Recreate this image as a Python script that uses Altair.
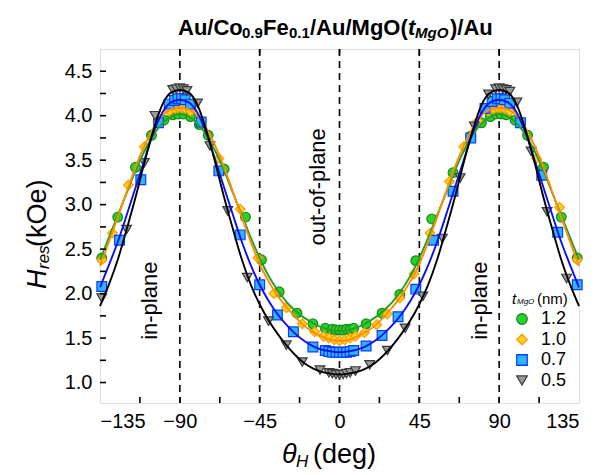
import altair as alt
import pandas as pd

# ---------------- data ----------------
series_names = ["1.2", "1.0", "0.7", "0.5"]
shapes = ["circle", "diamond", "square", "triangle-down"]
fills = ["#2bd12b", "#ffd324", "#2fb4ff", "#9a9a9a"]
strokes = ["#178a17", "#ff9a00", "#0a3cff", "#3a3a3a"]
line_colors = ["#23a023", "#ff8c00", "#0a10f0", "#000000"]

# measured points
theta_12 = [-134, -125, -115, -106, -99, -94, -91, -88, -84, -79, -74, -65, -53, -44, -34, -24, -15, -8, -4, -2, 0, 2, 4, 6, 8, 15, 24, 34, 43, 52, 64, 74, 80, 85, 88, 91, 94, 99, 106, 115, 125, 134]
h_12 = [2.40, 2.86, 3.42, 3.78, 3.95, 4.01, 4.02, 4.02, 3.99, 3.90, 3.78, 3.40, 2.86, 2.38, 2.02, 1.78, 1.66, 1.61, 1.60, 1.59, 1.59, 1.59, 1.60, 1.60, 1.61, 1.66, 1.78, 1.99, 2.37, 2.84, 3.36, 3.77, 3.92, 3.99, 4.02, 4.02, 4.01, 3.95, 3.78, 3.42, 2.86, 2.40]

theta_10 = [-134, -128, -119, -110, -102, -96, -93, -91, -89, -87, -84, -78, -68, -56, -46, -37, -30, -21, -14, -9, -6, -3, 0, 3, 6, 9, 14, 21, 27, 34, 42, 51, 62, 70, 78, 84, 87, 89, 91, 93, 96, 102, 111, 124, 134]
h_10 = [2.38, 2.68, 3.22, 3.65, 3.93, 4.05, 4.08, 4.09, 4.09, 4.08, 4.05, 3.93, 3.52, 2.95, 2.40, 2.00, 1.84, 1.66, 1.57, 1.52, 1.50, 1.48, 1.47, 1.48, 1.50, 1.52, 1.56, 1.65, 1.77, 1.95, 2.22, 2.68, 3.26, 3.65, 3.94, 4.05, 4.08, 4.09, 4.09, 4.08, 4.05, 3.92, 3.52, 2.97, 2.38]

theta_07 = [-134, -124, -112, -102, -96, -93, -91, -89, -87, -84, -78, -68, -56, -45, -35, -26, -15, -8, -6, -4, -2, 0, 2, 4, 6, 8, 15, 24, 33, 43, 53, 64, 74, 82, 86, 89, 91, 93, 96, 102, 114, 123, 134]
h_07 = [2.08, 2.60, 3.28, 3.92, 4.13, 4.17, 4.19, 4.19, 4.18, 4.13, 3.93, 3.38, 2.66, 2.10, 1.76, 1.57, 1.40, 1.36, 1.35, 1.34, 1.34, 1.34, 1.34, 1.34, 1.35, 1.36, 1.41, 1.53, 1.74, 2.05, 2.60, 3.15, 3.75, 4.08, 4.16, 4.19, 4.19, 4.18, 4.14, 3.92, 3.33, 2.69, 2.10]

theta_05 = [-134, -120, -110, -104, -94, -92, -90, -88, -86, -80, -73, -63, -52, -40, -30, -21, -11, -6, -4, -2, 0, 2, 4, 6, 9, 17, 27, 37, 47, 58, 68, 76, 84, 88, 90, 92, 94, 96, 100, 108, 117, 128]
h_05 = [1.95, 2.72, 3.47, 4.00, 4.29, 4.30, 4.31, 4.30, 4.28, 4.14, 3.66, 2.93, 2.18, 1.69, 1.42, 1.23, 1.14, 1.11, 1.10, 1.09, 1.09, 1.09, 1.10, 1.11, 1.13, 1.20, 1.36, 1.61, 1.97, 2.62, 3.30, 3.88, 4.24, 4.30, 4.31, 4.30, 4.29, 4.27, 4.15, 3.60, 2.92, 2.17]

# fitted curves, read every 5 degrees
fit_theta = list(range(-135, 136, 5))
fit_12 = [2.38, 2.63, 2.88, 3.13, 3.38, 3.60, 3.78, 3.91, 3.99, 4.02,
          3.99, 3.91, 3.78, 3.60, 3.38, 3.13, 2.88, 2.63, 2.40,
          2.20, 2.04, 1.91, 1.81, 1.73, 1.67, 1.62, 1.59, 1.58,
          1.59, 1.62, 1.67, 1.73, 1.81, 1.91, 2.04, 2.20,
          2.40, 2.63, 2.88, 3.13, 3.38, 3.60, 3.78, 3.91, 3.99, 4.02,
          3.99, 3.91, 3.78, 3.60, 3.38, 3.13, 2.88, 2.63, 2.38]
fit_10 = [2.31, 2.58, 2.86, 3.14, 3.42, 3.66, 3.86, 4.00, 4.07, 4.09,
          4.07, 4.00, 3.86, 3.66, 3.42, 3.14, 2.86, 2.58, 2.33,
          2.14, 1.98, 1.85, 1.74, 1.64, 1.57, 1.52, 1.48, 1.47,
          1.48, 1.52, 1.57, 1.64, 1.74, 1.85, 1.98, 2.14,
          2.33, 2.58, 2.86, 3.14, 3.42, 3.66, 3.86, 4.00, 4.07, 4.09,
          4.07, 4.00, 3.86, 3.66, 3.42, 3.14, 2.86, 2.58, 2.31]
fit_07 = [2.07, 2.32, 2.58, 2.88, 3.19, 3.50, 3.80, 4.03, 4.15, 4.18,
          4.15, 4.03, 3.80, 3.50, 3.19, 2.88, 2.58, 2.32, 2.10,
          1.92, 1.77, 1.65, 1.55, 1.47, 1.41, 1.37, 1.35, 1.34,
          1.35, 1.37, 1.41, 1.47, 1.55, 1.65, 1.77, 1.92,
          2.10, 2.32, 2.58, 2.88, 3.19, 3.50, 3.80, 4.03, 4.15, 4.18,
          4.15, 4.03, 3.80, 3.50, 3.19, 2.88, 2.58, 2.32, 2.07]
fit_05 = [1.86, 2.10, 2.38, 2.72, 3.08, 3.47, 3.83, 4.12, 4.26, 4.29,
          4.26, 4.12, 3.83, 3.47, 3.08, 2.72, 2.38, 2.10, 1.88,
          1.70, 1.55, 1.42, 1.31, 1.22, 1.16, 1.12, 1.10, 1.09,
          1.10, 1.12, 1.16, 1.22, 1.31, 1.42, 1.55, 1.70,
          1.88, 2.10, 2.38, 2.72, 3.08, 3.47, 3.83, 4.12, 4.26, 4.29,
          4.26, 4.12, 3.83, 3.47, 3.08, 2.72, 2.38, 2.10, 1.86]

x_labels = [-135, -90, -45, 0, 45, 90, 135]
y_labels = [1.0, 1.5, 2.0, 2.5, 3.0, 3.5, 4.0, 4.5]
x_ticks_bottom = [-112.5, -90, -67.5, -45, -22.5, 0, 22.5, 45, 67.5, 90, 112.5]
x_ticks_top = [-90, -45, 0, 45, 90]
y_ticks_left = [1.0, 1.25, 1.5, 1.75, 2.0, 2.25, 2.5, 2.75, 3.0, 3.25, 3.5, 3.75, 4.0, 4.25, 4.5]
dashed_x = [-90, -45, 0, 45, 90]

# ---------------- tables ----------------
pts = pd.concat([
    pd.DataFrame({"series": s, "theta": t, "H": h})
    for s, t, h in zip(series_names, [theta_12, theta_10, theta_07, theta_05], [h_12, h_10, h_07, h_05])
])
fits = pd.concat([
    pd.DataFrame({"series": s, "theta": fit_theta, "H": h})
    for s, h in zip(series_names, [fit_12, fit_10, fit_07, fit_05])
])

W, H = 479, 354
FONT = "Liberation Sans"
xs = alt.Scale(domain=[-135, 135], nice=False, zero=False)
ys = alt.Scale(domain=[0.77, 4.75], nice=False, zero=False)

base_x = alt.X("theta:Q", scale=xs,
               axis=alt.Axis(values=x_labels, ticks=False, domain=False, grid=False, title=None,
                             labelFontSize=20, labelFont=FONT, labelColor="black", labelPadding=8))
base_y = alt.Y("H:Q", scale=ys,
               axis=alt.Axis(values=y_labels, format=".1f", ticks=False, domain=False, grid=False, title=None,
                             labelFontSize=20, labelFont=FONT, labelColor="black", labelPadding=8))

dashes = alt.Chart(pd.DataFrame({"theta": dashed_x})).mark_rule(
    color="black", strokeDash=[7, 5], strokeWidth=1.6
).encode(x=alt.X("theta:Q", scale=xs), y=alt.value(0), y2=alt.value(H))

tb = alt.Chart(pd.DataFrame({"theta": x_ticks_bottom})).mark_rule(color="black", strokeWidth=1.6).encode(
    x=alt.X("theta:Q", scale=xs), y=alt.value(H), y2=alt.value(H - 6))
tt = alt.Chart(pd.DataFrame({"theta": x_ticks_top})).mark_rule(color="black", strokeWidth=1.6).encode(
    x=alt.X("theta:Q", scale=xs), y=alt.value(0), y2=alt.value(6))
tl = alt.Chart(pd.DataFrame({"H": y_ticks_left})).mark_rule(color="black", strokeWidth=1.6).encode(
    y=alt.Y("H:Q", scale=ys), x=alt.value(0), x2=alt.value(6))

points = alt.Chart(pts).mark_point(filled=True, size=95, strokeWidth=1.2, opacity=1).encode(
    x=base_x, y=base_y,
    shape=alt.Shape("series:N", scale=alt.Scale(domain=series_names, range=shapes), legend=None),
    fill=alt.Fill("series:N", scale=alt.Scale(domain=series_names, range=fills), legend=None),
    stroke=alt.Stroke("series:N", scale=alt.Scale(domain=series_names, range=strokes), legend=None),
)

lines = alt.Chart(fits).mark_line(strokeWidth=1.9, interpolate="monotone").encode(
    x=alt.X("theta:Q", scale=xs), y=alt.Y("H:Q", scale=ys),
    color=alt.Color("series:N", scale=alt.Scale(domain=series_names, range=line_colors), legend=None),
    detail="series:N",
)

annot = pd.DataFrame({"theta": [-107, 79, -12], "H": [1.92, 1.92, 3.2],
                      "label": ["in-plane", "in-plane", "out-of-plane"]})
annot_text = alt.Chart(annot).mark_text(angle=270, fontSize=22, font=FONT, color="black",
                                        align="center", baseline="middle").encode(
    x=alt.X("theta:Q", scale=xs), y=alt.Y("H:Q", scale=ys), text="label:N")


def txt(s, x, y, size, **kw):
    return alt.Chart(pd.DataFrame({"a": [0]})).mark_text(
        text=s, fontSize=size, font=FONT, color="black", **kw
    ).encode(x=alt.value(x), y=alt.value(y))


# chart title pieces (left aligned, alphabetic baseline)
ty = -21
title_parts = [
    txt("Au/Co", 78, ty, 22, fontWeight="bold", align="left"),
    txt("0.9", 142, ty + 5, 15, fontWeight="bold", align="left"),
    txt("Fe", 163, ty, 22, fontWeight="bold", align="left"),
    txt("0.1", 189, ty + 5, 15, fontWeight="bold", align="left"),
    txt("/Au/MgO(", 210, ty, 22, fontWeight="bold", align="left"),
    txt("t", 308, ty, 22, fontWeight="bold", fontStyle="italic", align="left"),
    txt("MgO", 315, ty + 5, 15, fontWeight="bold", fontStyle="italic", align="left"),
    txt(")/Au", 350, ty, 22, fontWeight="bold", align="left"),
]

# x-axis title
xt = [
    txt("θ", 182, 406, 27, fontStyle="italic", align="left"),
    txt("H", 196, 413, 17, fontStyle="italic", align="left"),
    txt("(deg)", 213, 406, 27, align="left"),
]

# y-axis title (rotated)
yt = [
    txt("H", -62, 240, 27, fontStyle="italic", align="left", angle=270),
    txt("res", -56, 220, 17, fontStyle="italic", align="left", angle=270),
    txt("(kOe)", -62, 198, 27, align="left", angle=270),
]

# legend (drawn by hand)
lh = [
    txt("t", 412, 250, 15, fontStyle="italic", align="left"),
    txt("MgO", 417, 253, 8, fontStyle="italic", align="left"),
    txt("(nm)", 437, 250, 15, align="left"),
]
for i, name in enumerate(series_names):
    yy = 270 + 20.5 * i
    lh.append(
        alt.Chart(pd.DataFrame({"a": [0]})).mark_point(
            shape=shapes[i], fill=fills[i], stroke=strokes[i], filled=True,
            size=110, strokeWidth=1.3, opacity=1
        ).encode(x=alt.value(422), y=alt.value(yy))
    )
    lh.append(txt(name, 441, yy, 18, align="left", baseline="middle"))

chart = alt.layer(
    dashes, points, lines, annot_text, tb, tt, tl, *title_parts, *xt, *yt, *lh
).properties(
    width=W, height=H,
    autosize=alt.AutoSizeParams(type="none"),
    padding={"left": 92, "top": 41, "right": 10, "bottom": 70},
).configure_view(stroke="black", strokeWidth=2).configure(background="white")

chart.save("out.html", embed_options={"renderer": "svg", "actions": False})
